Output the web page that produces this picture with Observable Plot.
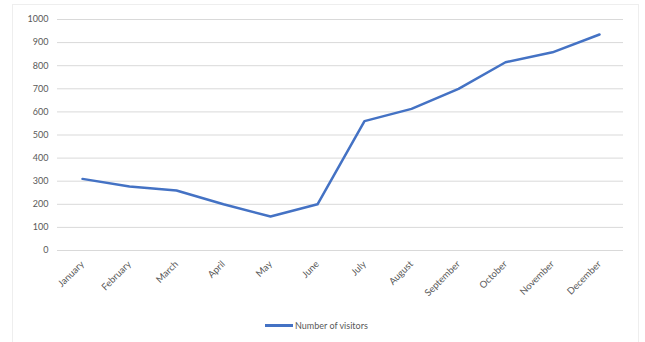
<!DOCTYPE html>
<html>
<head>
<meta charset="utf-8">
<script src="https://cdn.jsdelivr.net/npm/d3@7"></script>
<script src="https://cdn.jsdelivr.net/npm/@observablehq/plot@0.6"></script>
<style>
  html, body { margin: 0; padding: 0; background: #fff; }
  #wrap { position: relative; width: 645px; height: 342px; overflow: hidden; }
  #frame { position: absolute; left: 12px; top: 4px; width: 627px; height: 340px; border: 1px solid #eeeeee; box-sizing: border-box; pointer-events: none; }
  #chart { position: absolute; left: 0; top: 0; }
  #legend { position: absolute; left: 265px; top: 320px; display: flex; align-items: center;
    font-family: Lato, "Open Sans", sans-serif; font-size: 9px; color: #595959; }
  #legend .sw { width: 28px; height: 2.5px; background: #4472C4; margin-right: 2px; }
</style>
</head>
<body>
<div id="wrap">
  <div id="chart"></div>
  <div id="frame"></div>
  <div id="legend"><span class="sw"></span><span>Number of visitors</span></div>
</div>
<script>
const months = ["January","February","March","April","May","June","July","August","September","October","November","December"];
const visitors = [310, 277, 260, 200, 147, 200, 560, 613, 700, 815, 858, 935];
const yTicks = [0,100,200,300,400,500,600,700,800,900,1000];

const data = months.map((m, i) => ({month: m, value: visitors[i]}));

const chart = Plot.plot({
  width: 645,
  height: 312,
  marginLeft: 57,
  marginRight: 22,
  marginTop: 19,
  marginBottom: 62,
  style: {fontFamily: "Lato, 'Open Sans', sans-serif", fontSize: "9px", color: "#595959", background: "transparent"},
  x: {type: "point", domain: months, padding: 0.5, label: null},
  y: {domain: [0, 1000], label: null},
  marks: [
    Plot.gridY(yTicks, {stroke: "#d9d9d9", strokeOpacity: 1}),
    Plot.ruleY([0], {stroke: "#d9d9d9"}),
    Plot.axisY(yTicks, {tickSize: 0, tickPadding: 9, label: null, tickFormat: d => String(d), fill: "#595959"}),
    Plot.axisX(months, {tickSize: 0, tickRotate: -45, tickPadding: 12, fontSize: 9.5, label: null, fill: "#595959"}),
    Plot.line(data, {x: "month", y: "value", stroke: "#4472C4", strokeWidth: 2.5, strokeLinejoin: "round", strokeLinecap: "round"})
  ]
});
document.getElementById("chart").appendChild(chart);
</script>
</body>
</html>
